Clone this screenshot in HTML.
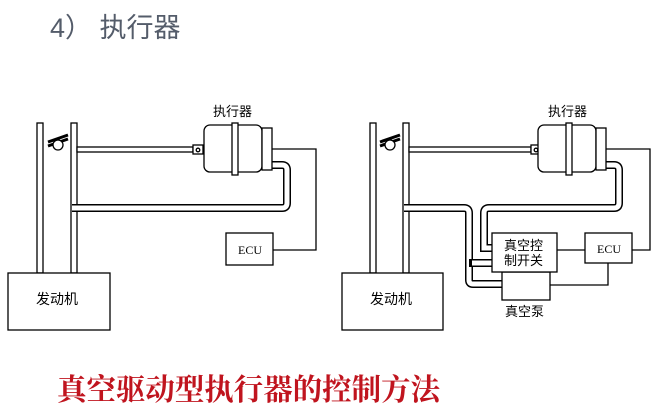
<!DOCTYPE html>
<html><head><meta charset="utf-8"><style>
html,body{margin:0;padding:0;background:#fff;width:670px;height:411px;overflow:hidden}
svg{position:absolute;left:0;top:0}
.t{font-family:"Liberation Sans","Noto Sans CJK SC",sans-serif}
.s{font-family:"Liberation Serif","Noto Serif CJK SC",serif}
</style></head><body>
<svg width="670" height="411" viewBox="0 0 670 411">
<text x="50" y="37" class="t" font-size="27" fill="#545c6a">4） 执行器</text>

<!-- LEFT diagram -->
<g stroke="#000" stroke-width="1.3" fill="#fff">
  <rect x="37" y="123" width="6" height="150"/>
  <rect x="71" y="123" width="6" height="150"/>
  <rect x="77" y="147" width="116" height="5"/>
  <rect x="193" y="145" width="10" height="9"/>
  <circle cx="198" cy="150" r="1.8"/>
  <path d="M272 165 H282 Q287 165 287 170 V203 Q287 208 282 208 H72" fill="none" stroke-width="8"/>
  <path d="M272 165 H282 Q287 165 287 170 V203 Q287 208 282 208 H72" fill="none" stroke="#fff" stroke-width="5"/>
  <rect x="204" y="125" width="58" height="47" rx="6"/>
  <rect x="262" y="128" width="10" height="42"/>
  <rect x="232" y="123" width="6" height="52"/>
  <path d="M272 149 H316 V250 H273" fill="none"/>
  <rect x="226" y="233" width="47" height="32"/>
  <rect x="8" y="273" width="102" height="57"/>
  <path d="M48 142 L68 135 M48 146 L68 139" stroke-width="3"/>
  <circle cx="58" cy="145" r="5"/>
</g>
<text x="213" y="116" class="t" font-size="13">执行器</text>
<text x="238" y="254" class="s" font-size="12">ECU</text>
<text x="36" y="304" class="t" font-size="14">发动机</text>

<!-- RIGHT diagram -->
<g stroke="#000" stroke-width="1.3" fill="#fff">
  <rect x="370" y="123" width="6" height="150"/>
  <rect x="403" y="123" width="6" height="150"/>
  <rect x="409" y="147" width="122" height="5"/>
  <rect x="531" y="145" width="10" height="9"/>
  <circle cx="536" cy="150" r="1.8"/>
  <path d="M596 165 H614 Q619 165 619 170 V203 Q619 208 614 208 H489 Q484 208 484 213 V248 H494" fill="none" stroke-width="8"/>
  <path d="M596 165 H614 Q619 165 619 170 V203 Q619 208 614 208 H489 Q484 208 484 213 V248 H494" fill="none" stroke="#fff" stroke-width="5"/>
  <path d="M404 208 H464 Q469 208 469 213 V280 Q469 284 473 284 H504" fill="none" stroke-width="8"/>
  <path d="M404 208 H464 Q469 208 469 213 V280 Q469 284 473 284 H504" fill="none" stroke="#fff" stroke-width="5"/>
  <path d="M469 263 H494" fill="none" stroke-width="8"/>
  <path d="M472 263 H494" fill="none" stroke="#fff" stroke-width="5"/>
  <rect x="538" y="125" width="58" height="47" rx="6"/>
  <rect x="596" y="128" width="10" height="42"/>
  <rect x="566" y="123" width="6" height="52"/>
  <path d="M606 149 H650 V250 H632" fill="none"/>
  <path d="M557 250 H585" fill="none"/>
  <path d="M608 263 V285 H550" fill="none"/>
  <rect x="502" y="272" width="48" height="28"/>
  <rect x="492" y="233" width="65" height="39"/>
  <rect x="585" y="233" width="47" height="30"/>
  <rect x="342" y="273" width="101" height="57"/>
  <path d="M380 142 L400 135 M380 146 L400 139" stroke-width="3"/>
  <circle cx="390" cy="145" r="5"/>
</g>
<text x="548" y="116" class="t" font-size="13">执行器</text>
<text x="504" y="250" class="t" font-size="13">真空控</text>
<text x="504" y="265" class="t" font-size="13">制开关</text>
<text x="597" y="253" class="s" font-size="12">ECU</text>
<text x="505" y="316" class="t" font-size="13">真空泵</text>
<text x="370" y="304" class="t" font-size="14">发动机</text>

<text x="57" y="400" class="s" font-size="30" font-weight="bold" fill="#c0141e" textLength="383" lengthAdjust="spacingAndGlyphs">真空驱动型执行器的控制方法</text>
</svg>
</body></html>
